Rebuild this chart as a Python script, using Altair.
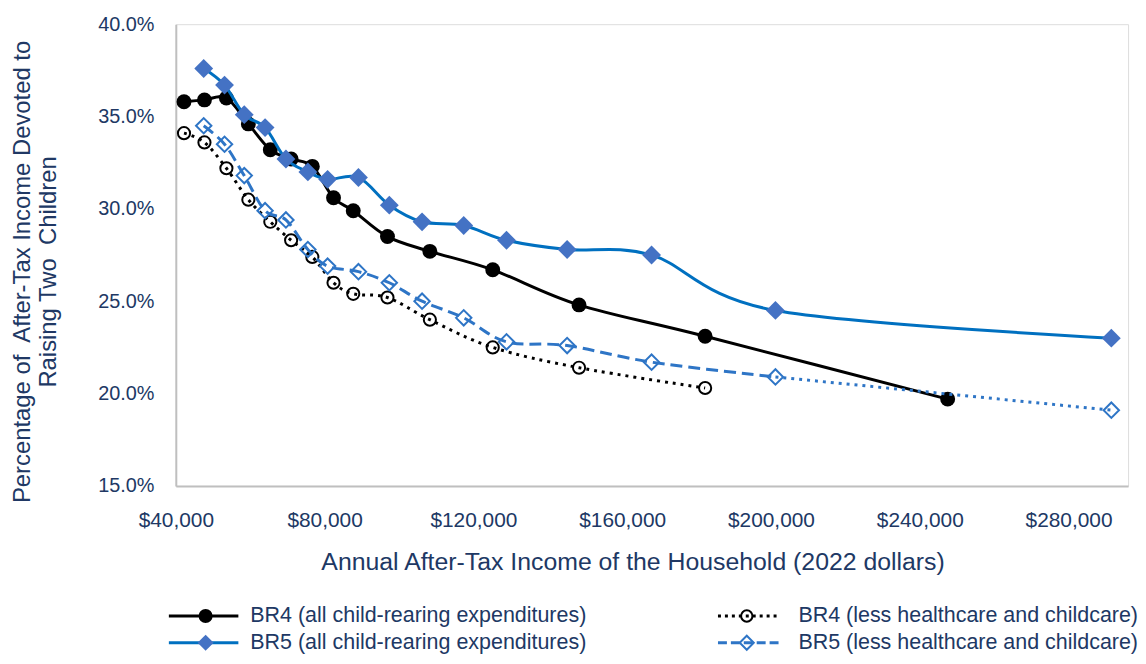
import altair as alt
import pandas as pd

# ---- data ----
br4_income = [42200, 47700, 53600, 59500, 65400, 71000, 76700, 82400, 87700,
              96900, 108300, 125200, 148400, 182300, 247500]
br4_all_pct = [35.8, 35.9, 36.0, 34.6, 33.2, 32.7, 32.3, 30.6, 29.9,
               28.5, 27.7, 26.7, 24.8, 23.1, 19.7]
br4_less_pct = [34.1, 33.6, 32.2, 30.5, 29.3, 28.3, 27.4, 26.0, 25.4,
                25.2, 24.0, 22.5, 21.4, 20.3]

br5_income = [47500, 53100, 58400, 64000, 69600, 75500, 80800, 89100, 97400,
              106200, 117400, 128900, 145200, 167900, 201200, 291500]
br5_all_pct = [37.6, 36.7, 35.1, 34.4, 32.7, 32.0, 31.6, 31.7, 30.2,
               29.3, 29.1, 28.3, 27.8, 27.5, 24.5, 23.0]
br5_less_pct = [34.5, 33.5, 31.8, 29.9, 29.4, 27.8, 26.9, 26.6, 26.0,
                25.0, 24.1, 22.8, 22.6, 21.7, 20.9, 19.1]

x_ticks = [40000, 80000, 120000, 160000, 200000, 240000, 280000]
y_ticks = [15, 20, 25, 30, 35, 40]

legend_labels = [
    "BR4 (all child-rearing expenditures)",
    "BR4 (less healthcare and childcare)",
    "BR5 (all child-rearing expenditures)",
    "BR5 (less healthcare and childcare)",
]

x_title = "Annual After-Tax Income of the Household (2022 dollars)"
y_title = ["Percentage of\u00a0 After-Tax Income Devoted to", "Raising Two\u00a0 Children"]

# ---- tables ----
br4_all = pd.DataFrame({"income": br4_income, "pct": br4_all_pct})
br4_less = pd.DataFrame({"income": br4_income[:len(br4_less_pct)], "pct": br4_less_pct})
br5_all = pd.DataFrame({"income": br5_income, "pct": br5_all_pct})
br5_less = pd.DataFrame({"income": br5_income, "pct": br5_less_pct})
br5_less_head = br5_less.iloc[:-1]
br5_less_tail = br5_less.iloc[-2:]

FONT = "Liberation Sans"
NAVY = "#203864"
W, H = 959, 465

xscale = alt.Scale(domain=[40000, 296000], nice=False, zero=False)
yscale = alt.Scale(domain=[15, 40], nice=False, zero=False)

xaxis = alt.Axis(values=x_ticks, format="$,.0f", title=x_title, grid=False, ticks=False,
                 labelFlush=False, labelFontSize=21, labelPadding=24,
                 titleFontSize=25, titleFontWeight="normal", labelColor=NAVY, titleColor=NAVY,
                 titleX=460, titleY=76, titleAlign="center", titleBaseline="middle",
                 domainColor="#BFBFBF", domainWidth=2, labelFont=FONT, titleFont=FONT)
yaxis = alt.Axis(values=y_ticks, labelExpr="format(datum.value, '.1f') + '%'", title=y_title,
                 grid=False, ticks=False, labelFontSize=20, labelPadding=22,
                 titleFontSize=24, titleFontWeight="normal", labelColor=NAVY, titleColor=NAVY,
                 domainColor="#BFBFBF", domainWidth=2, labelFont=FONT, titleFont=FONT,
                 titleAngle=270, titleAlign="center", titleBaseline="middle",
                 titleX=-154, titleY=249, titleLineHeight=26)

def enc(ch):
    return ch.encode(
        x=alt.X("income:Q", scale=xscale, axis=xaxis),
        y=alt.Y("pct:Q", scale=yscale, axis=yaxis),
    )

BLACK = "#000000"
BLUE_LINE = "#0070C0"
BLUE_MARK = "#4472C4"
BLUE_DASH = "#2E75C6"

layers = [
    enc(alt.Chart(br4_all).mark_line(interpolate="cardinal", color=BLACK, strokeWidth=3)),
    enc(alt.Chart(br4_all).mark_point(shape="circle", filled=True, color=BLACK, size=225, opacity=1)),
    enc(alt.Chart(br4_less).mark_line(interpolate="cardinal", color=BLACK, strokeWidth=3,
                                      strokeDash=[3, 5])),
    enc(alt.Chart(br4_less).mark_point(shape="circle", filled=False, color=BLACK, size=150,
                                       strokeWidth=2, opacity=1)),
    enc(alt.Chart(br5_all).mark_line(interpolate="cardinal", color=BLUE_LINE, strokeWidth=3)),
    enc(alt.Chart(br5_all).mark_point(shape="diamond", filled=True, color=BLUE_MARK, size=360, opacity=1)),
    enc(alt.Chart(br5_less_head).mark_line(interpolate="cardinal", color=BLUE_DASH, strokeWidth=3,
                                           strokeDash=[12, 6])),
    enc(alt.Chart(br5_less_tail).mark_line(color=BLUE_DASH, strokeWidth=3, strokeDash=[3, 5])),
    enc(alt.Chart(br5_less).mark_point(shape="diamond", filled=False, color=BLUE_DASH, size=240,
                                       strokeWidth=2, opacity=1)),
]

# ---- custom legend (line + marker + label), 2 columns x 2 rows ----
one = pd.DataFrame({"k": [0]})
leg_specs = [
    # (label index, row y, line x0, x1, marker x, text x, line style, marker style)
    (0, 596, -7, 63, 30, 75, dict(color=BLACK, strokeWidth=3),
     dict(shape="circle", filled=True, color=BLACK, size=200)),
    (1, 596, 546, 607, 575, 627, dict(color=BLACK, strokeWidth=3, strokeDash=[3, 4]),
     dict(shape="circle", filled=False, color=BLACK, size=130, strokeWidth=2)),
    (2, 623, -7, 63, 30, 75, dict(color=BLUE_LINE, strokeWidth=3),
     dict(shape="diamond", filled=True, color=BLUE_MARK, size=260)),
    (3, 623, 546, 607, 575, 627, dict(color=BLUE_DASH, strokeWidth=3, strokeDash=[9, 4]),
     dict(shape="diamond", filled=False, color=BLUE_DASH, size=200, strokeWidth=2)),
]
for idx, ry, lx0, lx1, mx, tx, lstyle, mstyle in leg_specs:
    layers.append(alt.Chart(one).mark_rule(**lstyle).encode(
        x=alt.value(lx0), x2=alt.value(lx1), y=alt.value(ry)))
    layers.append(alt.Chart(one).mark_point(opacity=1, **mstyle).encode(
        x=alt.value(mx), y=alt.value(ry)))
    layers.append(alt.Chart(one).mark_text(align="left", baseline="middle", font=FONT,
                                           fontSize=21.6, color=NAVY).encode(
        x=alt.value(tx), y=alt.value(ry), text=alt.value(legend_labels[idx])))

chart = alt.layer(*layers).properties(
    width=W, height=H,
    autosize=alt.AutoSizeParams(type="none"),
    padding={"left": 169, "top": 14, "right": 10, "bottom": 168},
).configure_view(stroke=None).configure(background="white")

chart.save("out.html", embed_options={"renderer": "svg", "actions": False})
